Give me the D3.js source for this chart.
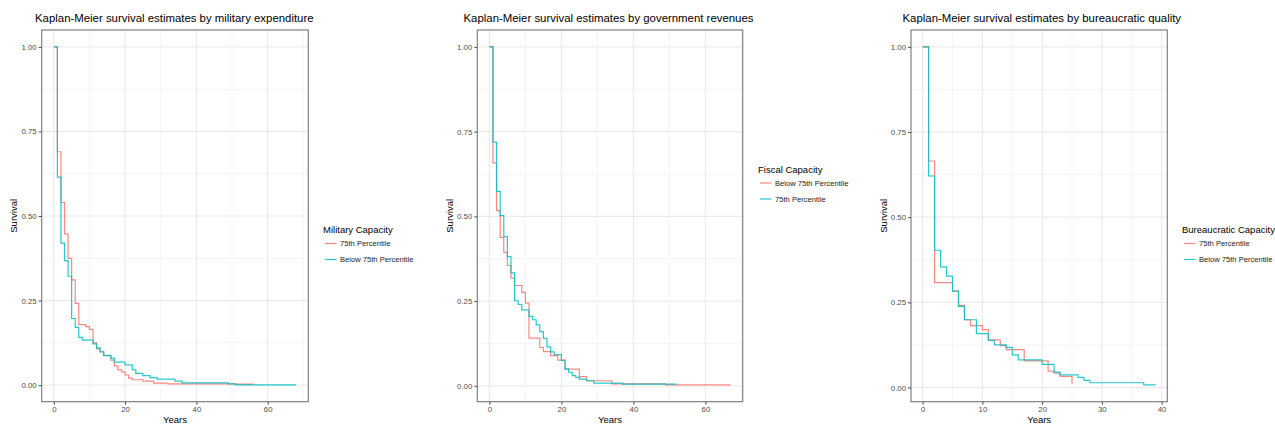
<!DOCTYPE html>
<html>
<head>
<meta charset="utf-8">
<script src="https://cdn.jsdelivr.net/npm/d3@7"></script>
<style>
  body { margin: 0; background: #fff; }
  svg { font-family: "Liberation Sans", Arial, sans-serif; }
</style>
</head>
<body>
<script>
// ---- data ----
var titles = [
    "Kaplan-Meier survival estimates by military expenditure",
    "Kaplan-Meier survival estimates by government revenues",
    "Kaplan-Meier survival estimates by bureaucratic quality"
];
var legendTitles = ["Military Capacity", "Fiscal Capacity", "Bureaucratic Capacity"];
var legendLabels = [
    ["75th Percentile", "Below 75th Percentile"],
    ["Below 75th Percentile", "75th Percentile"],
    ["75th Percentile", "Below 75th Percentile"]
];

// military expenditure
var milHiT = [0,1,2,3,4,5,6,7,9,10,11,12,13,14,16,17,18,19,20,21,22,25,28,32,51,56];
var milHiS = [1,0.69,0.54,0.447,0.375,0.311,0.242,0.179,0.173,0.165,0.125,0.107,0.099,0.087,0.074,0.057,0.045,0.039,0.030,0.021,0.016,0.012,0.006,0.004,0.003,0.003];
var milLoT = [0,1,2,3,4,5,6,7,8,11,12,13,14,16,17,20,22,23,25,27,29,34,36,49,51,68];
var milLoS = [1,0.615,0.42,0.368,0.322,0.197,0.171,0.141,0.133,0.122,0.110,0.098,0.088,0.080,0.068,0.060,0.045,0.035,0.028,0.022,0.018,0.012,0.007,0.004,0.001,0.001];

// government revenues
var revLoT = [0,1,2,3,4,5,6,7,9,10,11,14,15,17,19,21,25,27,34,49,67];
var revLoS = [1,0.658,0.517,0.438,0.394,0.355,0.318,0.296,0.276,0.244,0.141,0.113,0.101,0.089,0.076,0.049,0.027,0.015,0.006,0.003,0.003];
var revHiT = [0,1,2,3,4,5,6,7,8,9,11,12,13,14,15,16,17,18,20,21,22,23,24,25,27,29,37,52];
var revHiS = [1,0.719,0.574,0.502,0.44,0.381,0.333,0.251,0.24,0.224,0.205,0.195,0.18,0.16,0.14,0.115,0.1,0.092,0.075,0.05,0.04,0.03,0.025,0.02,0.015,0.008,0.005,0.005];

// bureaucratic quality
var bqHiT = [0,1,2,5,6,7,8,10,11,13,14,17,21,22,23,25];
var bqHiS = [1,0.665,0.308,0.283,0.241,0.199,0.182,0.17,0.14,0.123,0.111,0.078,0.048,0.042,0.033,0.011];
var bqLoT = [0,1,2,3,4,5,6,7,9,11,12,14,15,16,20,22,23,26,27,28,37,39];
var bqLoS = [1,0.621,0.403,0.354,0.327,0.283,0.238,0.199,0.158,0.138,0.125,0.118,0.096,0.081,0.068,0.045,0.037,0.03,0.021,0.014,0.008,0.008];

var xTicksWide = [0,20,40,60];
var xMinorWide = [10,30,50,70];
var xTicksNarrow = [0,10,20,30,40];
var xMinorNarrow = [5,15,25,35];
var yTicks = [0,0.25,0.5,0.75,1];
var yMinor = [0.125,0.375,0.625,0.875];

var red = "#F8766D", teal = "#00BFC4";

// ---- layout of the three panels ----
var panels = [
    { title: titles[0], legendTitle: legendTitles[0], labels: legendLabels[0],
      series: [[milHiT, milHiS], [milLoT, milLoS]],
      xTicks: xTicksWide, xMinor: xMinorWide,
      box: {l: 41.7, r: 308.3, t: 30, b: 401.7}, titleX: 35, yTitleX: 14,
      legendX: 323, legendY: 233 },
    { title: titles[1], legendTitle: legendTitles[1], labels: legendLabels[1],
      series: [[revLoT, revLoS], [revHiT, revHiS]],
      xTicks: xTicksWide, xMinor: xMinorWide,
      box: {l: 477.3, r: 742.7, t: 30, b: 401.7}, titleX: 463.5, yTitleX: 450,
      legendX: 758, legendY: 172.5 },
    { title: titles[2], legendTitle: legendTitles[2], labels: legendLabels[2],
      series: [[bqHiT, bqHiS], [bqLoT, bqLoS]],
      xTicks: xTicksNarrow, xMinor: xMinorNarrow,
      box: {l: 911, r: 1167.3, t: 30, b: 401.7}, titleX: 902.5, yTitleX: 884,
      legendX: 1182, legendY: 233 }
];
var colors = [red, teal];

var svg = d3.select('body').append('svg')
    .attr('width', 1275)
    .attr('height', 426);

// ggplot style 5% expansion of the data range
function expand(vals) {
    var ext = d3.extent(vals);
    var pad = (ext[1] - ext[0]) * 0.05;
    return [ext[0] - pad, ext[1] + pad];
}

panels.forEach(function(p) {
    var b = p.box;
    var allT = d3.merge(p.series.map(function(s) { return s[0]; }));
    var allS = d3.merge(p.series.map(function(s) { return s[1]; }));

    var xScale = d3.scaleLinear().domain(expand(allT)).range([b.l, b.r]);
    var yScale = d3.scaleLinear().domain(expand(allS)).range([b.b, b.t]);

    var g = svg.append('g');

    // minor grid
    p.xMinor.forEach(function(v) {
        if (xScale(v) < b.l || xScale(v) > b.r) return;
        g.append('line')
            .attr('x1', xScale(v)).attr('x2', xScale(v))
            .attr('y1', b.t).attr('y2', b.b)
            .style('stroke', '#f3f3f3').attr('stroke-width', 0.8);
    });
    yMinor.forEach(function(v) {
        g.append('line')
            .attr('x1', b.l).attr('x2', b.r)
            .attr('y1', yScale(v)).attr('y2', yScale(v))
            .style('stroke', '#f3f3f3').attr('stroke-width', 0.8);
    });
    // major grid
    p.xTicks.forEach(function(v) {
        g.append('line')
            .attr('x1', xScale(v)).attr('x2', xScale(v))
            .attr('y1', b.t).attr('y2', b.b)
            .style('stroke', '#ebebeb').attr('stroke-width', 1.2);
    });
    yTicks.forEach(function(v) {
        g.append('line')
            .attr('x1', b.l).attr('x2', b.r)
            .attr('y1', yScale(v)).attr('y2', yScale(v))
            .style('stroke', '#ebebeb').attr('stroke-width', 1.2);
    });

    // survival curves as step functions
    var line = d3.line()
        .x(function(d) { return xScale(d[0]); })
        .y(function(d) { return yScale(d[1]); })
        .curve(d3.curveStepAfter);

    p.series.forEach(function(s, i) {
        var pts = s[0].map(function(t, j) { return [t, s[1][j]]; });
        g.append('path')
            .attr('d', line(pts))
            .style('fill', 'none')
            .style('stroke', colors[i])
            .style('stroke-opacity', 0.85)
            .attr('stroke-width', 1.2);
    });

    // panel border
    g.append('rect')
        .attr('x', b.l).attr('y', b.t)
        .attr('width', b.r - b.l).attr('height', b.b - b.t)
        .style('fill', 'none').style('stroke', '#808080').attr('stroke-width', 1.2);

    // axes
    var xAxis = d3.axisBottom(xScale).tickValues(p.xTicks).tickSize(3).tickPadding(2);
    var yAxis = d3.axisLeft(yScale).tickValues(yTicks).tickSize(3).tickPadding(2)
        .tickFormat(d3.format('.2f'));

    var gx = g.append('g')
        .attr('transform', 'translate(0,' + b.b + ')')
        .call(xAxis);
    var gy = g.append('g')
        .attr('transform', 'translate(' + b.l + ',0)')
        .call(yAxis);
    [gx, gy].forEach(function(a) {
        a.select('.domain').remove();
        a.selectAll('.tick line').style('stroke', '#4d4d4d');
        a.selectAll('.tick text').style('fill', '#4d4d4d')
            .style('font-size', '7.8px').style('font-family', '"Liberation Sans", Arial, sans-serif');
    });

    // titles
    g.append('text')
        .attr('x', p.titleX).attr('y', 21.5)
        .style('font-size', '11.4px').style('fill', '#000')
        .text(p.title);
    g.append('text')
        .attr('x', (b.l + b.r) / 2).attr('y', 423)
        .attr('text-anchor', 'middle')
        .style('font-size', '9.5px')
        .text('Years');
    g.append('text')
        .attr('transform', 'translate(' + p.yTitleX + ',' + ((b.t + b.b) / 2) + ') rotate(-90)')
        .attr('text-anchor', 'middle')
        .attr('dy', '0.35em')
        .style('font-size', '9.5px')
        .text('Survival');

    // legend
    var lg = g.append('g').attr('transform', 'translate(' + p.legendX + ',' + p.legendY + ')');
    lg.append('text')
        .style('font-size', '9.5px')
        .text(p.legendTitle);
    p.labels.forEach(function(lab, i) {
        var ky = 10.5 + i * 16;
        lg.append('line')
            .attr('x1', 2).attr('x2', 13.5)
            .attr('y1', ky).attr('y2', ky)
            .style('stroke', colors[i]).style('stroke-opacity', 0.85)
            .attr('stroke-width', 1.2);
        lg.append('text')
            .attr('x', 17).attr('y', ky + 2.7)
            .style('font-size', '7.6px').style('fill', '#1a1a1a')
            .text(lab);
    });
});
</script>
</body>
</html>
